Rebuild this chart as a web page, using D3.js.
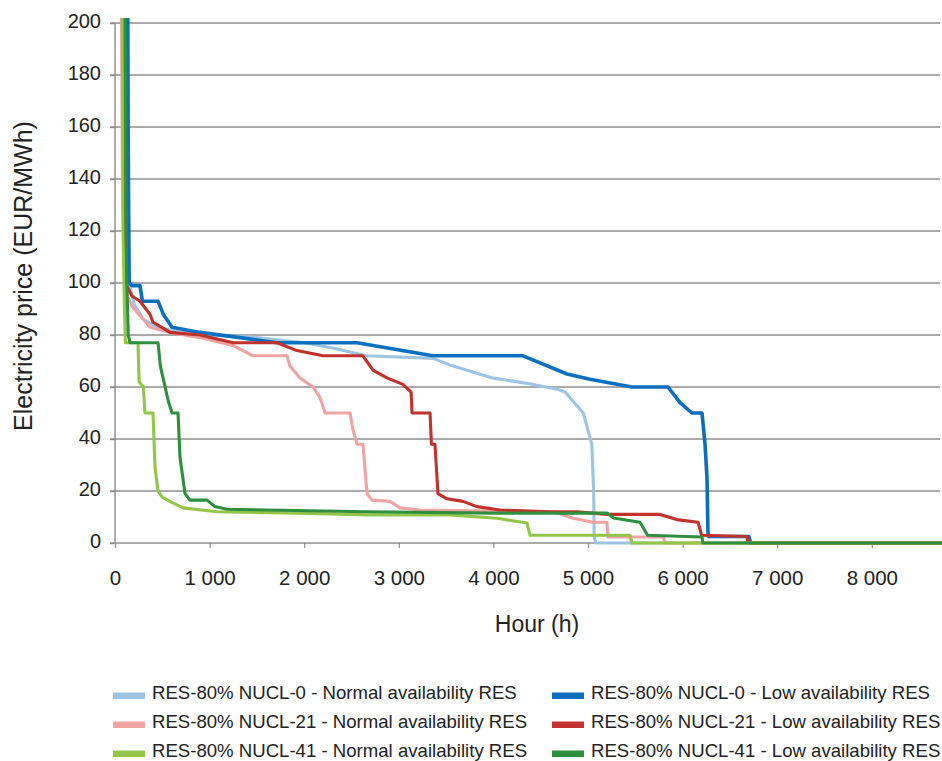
<!DOCTYPE html>
<html><head><meta charset="utf-8">
<script src="https://cdn.jsdelivr.net/npm/d3@7"></script>
<style>body{margin:0;background:#fff}svg{display:block;font-family:"Liberation Sans",Arial,sans-serif}</style>
</head><body><svg id="c" width="942" height="761"></svg>
<script>
// ---- data (hour, price EUR/MWh) ----
const xTicks = [0,1000,2000,3000,4000,5000,6000,7000,8000];
const xTickLabels = ["0","1 000","2 000","3 000","4 000","5 000","6 000","7 000","8 000"];
const yTicks = [0,20,40,60,80,100,120,140,160,180,200];
const seriesNames = [
  "RES-80% NUCL-0 - Normal availability RES",
  "RES-80% NUCL-0 - Low availability RES",
  "RES-80% NUCL-21 - Normal availability RES",
  "RES-80% NUCL-21 - Low availability RES",
  "RES-80% NUCL-41 - Normal availability RES",
  "RES-80% NUCL-41 - Low availability RES"
];
const seriesColors = ["#9dc5e3","#0b6fbf","#f0a3a3","#c0322b","#93c548","#2f8f3e"];

const nucl0Normal = [[100,260],[110,130],[125,110],[150,100],[200,92],[300,86],[450,83],[700,81],[1000,80],[1500,79],[2000,77],[2300,75],[2660,72],[3360,71],[3540,68.5],[3990,63.5],[4420,61],[4690,59],[4760,58],[4950,50],[5040,38],[5060,20],[5065,3],[5080,0],[8760,0]];
const nucl0Low = [[130,260],[140,150],[150,100],[180,99],[264,99],[290,93],[455,93],[510,88],[603,83],[899,81],[1321,79],[1712,77],[2558,77],[3361,72],[4313,72],[4778,65],[5021,63],[5465,60],[5846,60],[5973,54],[6099,50],[6205,50],[6237,38],[6258,25],[6268,4],[6275,2.5],[6700,2.5],[6720,0],[8760,0]];
const nucl21Normal = [[60,260],[80,130],[100,110],[130,95],[180,91],[370,83],[582,81],[899,79],[1247,76],[1459,72],[1818,72],[1850,68],[1956,63.5],[2093,60],[2167,56],[2220,50],[2484,50],[2516,43.5],[2558,38],[2621,38],[2664,19],[2717,16.5],[2907,16],[3013,13.5],[3224,12.7],[4650,12],[4830,9.6],[5052,8],[5200,8],[5211,2.3],[5800,2.3],[5810,0],[8760,0]];
const nucl21Low = [[85,260],[95,110],[110,100],[180,95],[264,93],[370,88],[400,85],[582,81],[899,80],[1250,77],[1712,77],[1924,74],[2199,72],[2621,72],[2727,66.5],[2875,63.5],[3044,61],[3130,58],[3140,50],[3330,50],[3345,38],[3382,38],[3414,19],[3509,17],[3678,16],[3826,14],[4070,12.7],[4598,12],[4883,12],[5200,11],[5760,11],[5940,9],[6163,8],[6200,3],[6680,2.5],[6690,0],[8760,0]];
const nucl41Normal = [[74,260],[85,120],[100,90],[110,77],[243,77],[255,62],[300,60],[317,50],[402,50],[423,29],[455,20],[497,17.7],[581,16],[719,13.5],[1078,12],[1956,11.5],[2664,10.8],[3540,10.8],[4040,9.5],[4355,7.7],[4387,3],[5444,3],[5465,0],[8760,0]];
const nucl41Low = [[100,260],[115,130],[125,100],[140,80],[160,77],[455,77],[480,68],[530,60],[560,55],[603,50],[666,50],[687,33],[740,19],[793,16.5],[973,16.5],[1057,14],[1184,13],[1607,12.7],[2664,12],[4000,11.5],[5200,11.5],[5270,9.6],[5550,8],[5630,3],[6205,2.3],[6215,0],[8760,0]];
const seriesData = [nucl0Normal,nucl0Low,nucl21Normal,nucl21Low,nucl41Normal,nucl41Low];

// ---- layout ----
const svg = d3.select("#c");
const x = d3.scaleLinear().domain([0,8760]).range([115,943.7]);
const y = d3.scaleLinear().domain([0,200]).range([543,23]);
const gridRight = 940;

// gridlines
svg.append("g").selectAll("line").data(yTicks.slice(1)).join("line")
  .attr("x1",110).attr("x2",gridRight).attr("y1",d=>y(d)).attr("y2",d=>y(d))
  .attr("stroke","#8e8e8e").attr("stroke-width",1.4);

// y axis line + ticks
svg.append("line").attr("x1",115).attr("x2",115).attr("y1",y(200)).attr("y2",y(0))
  .attr("stroke","#8e8e8e").attr("stroke-width",1.4);
// x axis
const xAxis = d3.axisBottom(x).tickValues(xTicks).tickFormat((d,i)=>xTickLabels[i]).tickSize(5).tickPadding(22);
const gx = svg.append("g").attr("transform",`translate(0,${y(0)})`).call(xAxis);
gx.select(".domain").remove();
gx.append("line").attr("x1",110).attr("x2",gridRight).attr("stroke","#8e8e8e").attr("stroke-width",1.4);
gx.selectAll(".tick line").attr("stroke","#8e8e8e").attr("stroke-width",1.2);
gx.selectAll(".tick text").attr("fill","#222").attr("font-size",20.5).attr("font-family","'Liberation Sans',Arial,sans-serif");

const yAxis = d3.axisLeft(y).tickValues(yTicks).tickSize(5).tickPadding(9);
const gy = svg.append("g").attr("transform","translate(115,0)").call(yAxis);
gy.select(".domain").remove();
gy.selectAll(".tick line").attr("stroke","#8e8e8e").attr("stroke-width",1.4);
gy.selectAll(".tick text").attr("fill","#222").attr("font-size",20).attr("dy","0.22em").attr("font-family","'Liberation Sans',Arial,sans-serif");

// clip
svg.append("clipPath").attr("id","clip").append("rect").attr("x",113).attr("y",18).attr("width",830).attr("height",530);

const line = d3.line().x(d=>x(d[0])).y(d=>y(d[1]));
const lg = svg.append("g").attr("clip-path","url(#clip)");
seriesData.forEach((s,i)=>{
  lg.append("path").datum(s).attr("d",line).attr("fill","none")
    .attr("stroke",seriesColors[i]).attr("stroke-width",i===1?3.6:3.1)
    .attr("stroke-linejoin","round");
});

// axis titles
svg.append("text").attr("x",537).attr("y",632).attr("text-anchor","middle")
  .attr("font-size",23).attr("fill","#222").text("Hour (h)");
svg.append("text").attr("transform","translate(32,276) rotate(-90)").attr("text-anchor","middle")
  .attr("font-size",25).attr("fill","#222").text("Electricity price (EUR/MWh)");

// legend
const legX = [113,552], legY = [692,721,750];
const order = [[0,0,0],[1,1,0],[2,0,1],[3,1,1],[4,0,2],[5,1,2]];
const leg = svg.append("g");
order.forEach(([i,c,r])=>{
  leg.append("rect").attr("x",legX[c]).attr("y",legY[r]+0.5).attr("width",32).attr("height",6.5).attr("fill",seriesColors[i]);
  leg.append("text").attr("x",legX[c]+39).attr("y",legY[r]+7).attr("font-size",18.6).attr("fill","#222").text(seriesNames[i]);
});
</script></body></html>
